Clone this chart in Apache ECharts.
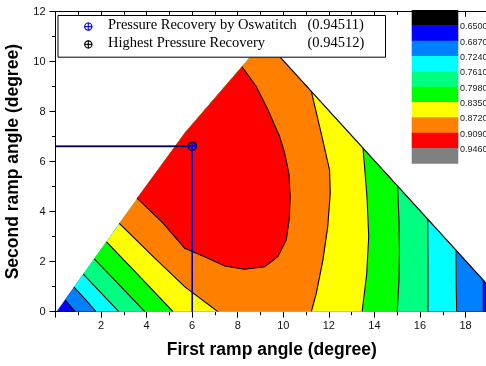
<!DOCTYPE html>
<html>
<head>
<meta charset="utf-8">
<script src="https://cdn.jsdelivr.net/npm/echarts@6/dist/echarts.min.js"></script>
<style>
html,body{margin:0;padding:0;background:#fff;}
#chart{width:486px;height:366px;}
</style>
</head>
<body>
<div id="chart"></div>
<script>
// ---------- data ----------
const levels = [0.650, 0.687, 0.724, 0.761, 0.798, 0.835, 0.872, 0.909, 0.946];
const colorbarLabels = ['0.6500','0.6870','0.7240','0.7610','0.7980','0.8350','0.8720','0.9090','0.9460'];
const xTickValues = [2, 4, 6, 8, 10, 12, 14, 16, 18];
const yTickValues = [0, 2, 4, 6, 8, 10, 12];

// domain boundary (first ramp angle, second ramp angle)
const leftEdge = [[0.05, 0], [5.7, 7.17], [8.19, 9.8], [9.18, 10.86]];
const diagonalEdge = [[9.18, 10.86], [20.04, 0]];

// contour lines: left pieces (left edge -> bottom), right pieces (bottom -> diagonal)
const c0687L = [[0.42, 0.47], [0.86, 0]];
const c0687R = [[18.78, 0], [18.78, 1.26]];
const c0724L = [[0.81, 0.98], [1.30, 0.5], [1.78, 0]];
const c0724R = [[17.61, 0], [17.59, 1.2], [17.58, 2.46]];
const c0761L = [[1.22, 1.50], [2.0, 0.75], [2.78, 0]];
const c0761R = [[16.35, 0], [16.35, 1.8], [16.34, 3.7]];
const c0798L = [[1.70, 2.11], [2.83, 1.04], [3.92, 0]];
const c0798R = [[15.0, 0], [15.08, 1.3], [15.1, 2.5], [15.07, 3.8], [15.02, 5.02]];
const c0835L = [[2.24, 2.79], [3.70, 1.4], [5.16, 0]];
const c0835R = [[13.46, 0], [13.66, 1.5], [13.75, 3.0], [13.68, 4.5], [13.58, 5.67], [13.5, 6.54]];
const c0872L = [[2.80, 3.53], [4.29, 2.2], [5.67, 1.0], [7.13, 0]];
const c0872R = [[11.23, 0], [11.45, 0.74], [11.74, 2.07], [11.95, 3.4], [12.06, 4.74], [12.03, 5.67], [11.66, 7.14], [11.23, 8.81]];
const c0909 = [[3.58, 4.54], [4.72, 3.54], [5.67, 2.54], [6.55, 2.2], [7.43, 1.83], [8.3, 1.7], [9.18, 1.8], [9.76, 2.2], [10.13, 2.87], [10.26, 3.7], [10.3, 4.6], [10.25, 5.5], [10.06, 6.34], [9.84, 7.0], [9.33, 8.07], [8.82, 9.0], [8.19, 9.8]];

// optimum points
const pointOswatitch = [6.0, 6.61];
const pointHighest = [6.0, 6.63];
const legendNames = ['Pressure Recovery by Oswatitch', 'Highest Pressure Recovery'];
const legendValues = ['(0.94511)', '(0.94512)'];

// ---------- styles ----------
const bandColors = ['#000000', '#0000FF', '#0080FF', '#00FFFF', '#00FF80', '#00FF00', '#FFFF00', '#FF8000', '#FF0000', '#808080'];
const SANS = 'Liberation Sans, Arial, sans-serif';
const SERIF = 'Liberation Serif, Times New Roman, serif';

// ---------- build filled regions (superlevel sets) ----------
const pairs = [[c0687L, c0687R], [c0724L, c0724R], [c0761L, c0761R], [c0798L, c0798R], [c0835L, c0835R], [c0872L, c0872R]];
const regions = [];
regions.push({ color: bandColors[1], pts: [...leftEdge, diagonalEdge[1]] });
pairs.forEach(([L, R], i) => {
  const upper = leftEdge.filter(p => p[1] > L[0][1]).slice().reverse();
  regions.push({ color: bandColors[i + 2], pts: [...L, ...R, ...upper] });
});
{
  const y0 = c0909[0][1], y1 = c0909[c0909.length - 1][1];
  const mid = leftEdge.filter(p => p[1] > y0 && p[1] < y1).slice().reverse();
  regions.push({ color: bandColors[8], pts: [...c0909, ...mid] });
}
const lines = [];
pairs.forEach(([L, R]) => { lines.push(L); lines.push(R); });
lines.push(c0909);
lines.push(diagonalEdge);

const chart = echarts.init(document.getElementById('chart'), null, { renderer: 'canvas' });

function clipRect(params) {
  const c = params.coordSys;
  return { type: 'rect', shape: { x: c.x, y: c.y, width: c.width, height: c.height } };
}

const graphics = [];
// legend box
graphics.push({ type: 'rect', left: 57.5, top: 15, shape: { width: 327.5, height: 41.7 }, style: { fill: '#fff', stroke: '#000', lineWidth: 1 }, z: 100 });
const legendRowsY = [26.6, 44.4];
const legendIconColors = ['#0000FF', '#000000'];
legendNames.forEach((name, i) => {
  const cy = legendRowsY[i];
  graphics.push({ type: 'circle', shape: { cx: 88.3, cy: cy, r: 3.6 }, style: { fill: 'none', stroke: legendIconColors[i], lineWidth: 1.2 }, z: 101 });
  graphics.push({ type: 'line', shape: { x1: 84.3, y1: cy, x2: 92.3, y2: cy }, style: { stroke: legendIconColors[i], lineWidth: 1.1 }, z: 101 });
  graphics.push({ type: 'line', shape: { x1: 88.3, y1: cy - 4, x2: 88.3, y2: cy + 4 }, style: { stroke: legendIconColors[i], lineWidth: 1.1 }, z: 101 });
  graphics.push({ type: 'text', left: 108, top: cy - 8.5, style: { text: name, font: '14.5px ' + SERIF, fill: '#000' }, z: 101 });
  graphics.push({ type: 'text', left: 307.5, top: cy - 8.5, style: { text: legendValues[i], font: '14.5px ' + SERIF, fill: '#000' }, z: 101 });
});
// colorbar
const cbX = 411.7, cbW = 46.6, cbTop = 10, cbH = 15.33;
bandColors.forEach((c, i) => {
  graphics.push({ type: 'rect', left: cbX, top: cbTop + i * cbH, shape: { width: cbW, height: cbH + 0.4 }, style: { fill: c }, z: 100 });
});
colorbarLabels.forEach((t, i) => {
  graphics.push({ type: 'text', left: 460, top: cbTop + (i + 1) * cbH - 3, style: { text: t, font: '9px ' + SANS, fill: '#222' }, z: 101 });
});

const option = {
  animation: false,
  backgroundColor: '#fff',
  grid: { left: 55.5, top: 11.7, width: 455.6, height: 300, outerBoundsMode: 'none', containLabel: false },
  xAxis: [{
    type: 'value', min: 0, max: 20, interval: 2, position: 'bottom',
    name: 'First ramp angle (degree)', nameLocation: 'middle', nameGap: 29,
    nameTextStyle: { fontFamily: SANS, fontWeight: 'bold', fontSize: 17.5, color: '#000', padding: [0, 23, 0, 0] },
    axisLine: { show: true, onZero: false, lineStyle: { color: '#000', width: 1 } },
    axisTick: { show: true, inside: false, length: 6, lineStyle: { color: '#000' } },
    minorTick: { show: true, splitNumber: 2, length: 3.5, lineStyle: { color: '#000' } },
    splitLine: { show: false },
    axisLabel: { fontFamily: SANS, fontSize: 11, color: '#111', margin: 9,
      formatter: v => (xTickValues.indexOf(v) >= 0 ? String(v) : '') }
  }, {
    type: 'value', min: 0, max: 20, interval: 2, position: 'top',
    axisLine: { show: true, onZero: false, lineStyle: { color: '#000', width: 1 } },
    axisTick: { show: true, inside: true, length: 5, lineStyle: { color: '#000' } },
    minorTick: { show: true, splitNumber: 2, length: 3, lineStyle: { color: '#000' } },
    splitLine: { show: false }, axisLabel: { show: false }
  }],
  yAxis: [{
    type: 'value', min: 0, max: 12, interval: 2,
    name: 'Second ramp angle (degree)', nameLocation: 'middle', nameGap: 28,
    nameTextStyle: { fontFamily: SANS, fontWeight: 'bold', fontSize: 17.5, color: '#000' },
    axisLine: { show: true, onZero: false, lineStyle: { color: '#000', width: 1 } },
    axisTick: { show: true, inside: false, length: 6, lineStyle: { color: '#000' } },
    minorTick: { show: true, splitNumber: 2, length: 3.5, lineStyle: { color: '#000' } },
    splitLine: { show: false },
    axisLabel: { fontFamily: SANS, fontSize: 11, color: '#111', margin: 10,
      formatter: v => (yTickValues.indexOf(v) >= 0 ? String(v) : '') }
  }],
  graphic: graphics,
  series: [{
    type: 'custom', coordinateSystem: 'cartesian2d', clip: true, z: 2,
    data: regions.map(r => r.pts[0]),
    renderItem: (params, api) => {
      const r = regions[params.dataIndex];
      return { type: 'group', clipPath: clipRect(params), children: [{
        type: 'polygon', shape: { points: r.pts.map(p => api.coord(p)) },
        style: { fill: r.color, stroke: r.color, lineWidth: 0.4 } }] };
    }
  }, {
    type: 'custom', coordinateSystem: 'cartesian2d', clip: true, z: 3,
    data: lines.map(l => l[0]),
    renderItem: (params, api) => {
      const l = lines[params.dataIndex];
      return { type: 'group', clipPath: clipRect(params), children: [{
        type: 'polyline', shape: { points: l.map(p => api.coord(p)) },
        style: { stroke: '#000', lineWidth: 1.1, fill: null } }] };
    }
  }, {
    type: 'line', z: 4, symbol: 'none', silent: true,
    data: [[0, pointOswatitch[1]], pointOswatitch, [pointOswatitch[0], 0]],
    lineStyle: { color: '#0000C8', width: 1.6 }
  }, {
    type: 'line', z: 5, symbol: 'none', silent: true,
    data: [[0, pointHighest[1]], pointHighest],
    lineStyle: { color: '#000', width: 1.1 }
  }, {
    type: 'custom', coordinateSystem: 'cartesian2d', z: 6,
    data: [pointHighest, pointOswatitch],
    renderItem: (params, api) => {
      const p = api.coord([api.value(0), api.value(1)]);
      const col = params.dataIndex === 0 ? '#000' : '#0000FF';
      const r = params.dataIndex === 0 ? 4.3 : 3.4;
      return { type: 'group', children: [
        { type: 'circle', shape: { cx: p[0], cy: p[1], r: r }, style: { fill: 'none', stroke: col, lineWidth: 1.2 } },
        { type: 'line', shape: { x1: p[0] - r, y1: p[1], x2: p[0] + r, y2: p[1] }, style: { stroke: col, lineWidth: 1 } },
        { type: 'line', shape: { x1: p[0], y1: p[1] - r, x2: p[0], y2: p[1] + r }, style: { stroke: col, lineWidth: 1 } }
      ] };
    }
  }]
};
chart.setOption(option);
</script>
</body>
</html>
